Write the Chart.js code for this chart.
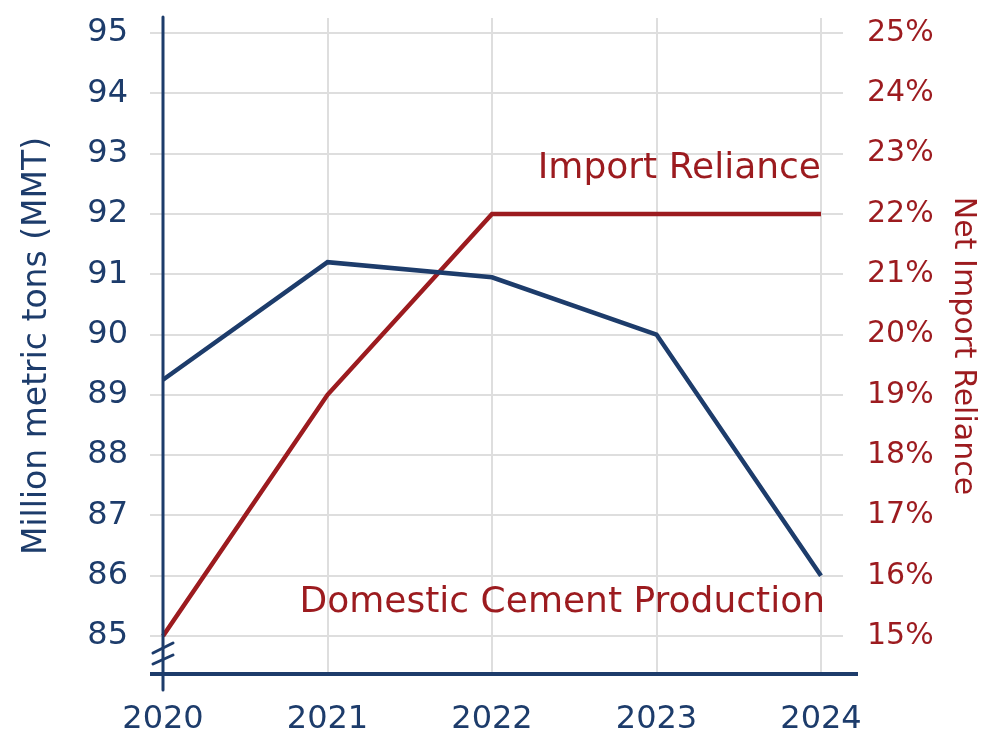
<!DOCTYPE html>
<html>
<head>
<meta charset="utf-8">
<script src="https://cdn.jsdelivr.net/npm/chart.js@4.4.0/dist/chart.umd.min.js"></script>
<style>
  html, body { margin: 0; padding: 0; background: #fff; }
  #wrap { width: 1000px; height: 754px; }
</style>
</head>
<body>
<div id="wrap"><canvas id="chart" width="1000" height="754"></canvas></div>
<script>
// data
const years = ['2020', '2021', '2022', '2023', '2024'];
const production = [89.25, 91.2, 90.95, 90.0, 86.0];     // MMT
const importReliance = [15, 19, 22, 22, 22];              // %
const leftTicks = [85, 86, 87, 88, 89, 90, 91, 92, 93, 94, 95];
const rightTicks = [15, 16, 17, 18, 19, 20, 21, 22, 23, 24, 25];

const BLUE = '#1d3c6b';
const RED = '#9c1b1f';
const GRID = '#dedede';
const FONT = "'DejaVu Sans', sans-serif";

// hand-drawn style axis lines, break mark and inline labels
const decorations = {
    id: 'decorations',
    afterDatasetsDraw(chart) {
        const { ctx, chartArea } = chart;
        const x = chart.scales.x;
        const y1 = chart.scales.y1;
        const y = chart.scales.y;
        const left = chartArea.left;
        const bottom = chartArea.bottom;

        ctx.save();
        ctx.strokeStyle = BLUE;
        ctx.lineCap = 'round';

        // left axis
        ctx.lineWidth = 3;
        ctx.beginPath();
        ctx.moveTo(left, chartArea.top - 1);
        ctx.lineTo(left, bottom + 16);
        ctx.stroke();

        // bottom axis
        ctx.lineWidth = 4;
        ctx.lineCap = 'butt';
        ctx.beginPath();
        ctx.moveTo(left - 13, bottom);
        ctx.lineTo(x.right + 37, bottom);
        ctx.stroke();

        // axis break marks
        ctx.lineWidth = 3;
        ctx.lineCap = 'round';
        ctx.beginPath();
        ctx.moveTo(left - 10, bottom - 21);
        ctx.lineTo(left + 10, bottom - 31);
        ctx.moveTo(left - 10, bottom - 10);
        ctx.lineTo(left + 10, bottom - 19);
        ctx.stroke();

        // series labels
        ctx.fillStyle = RED;
        ctx.font = `36px ${FONT}`;
        ctx.textAlign = 'right';
        ctx.textBaseline = 'middle';
        ctx.fillText('Import Reliance', x.getPixelForValue(4), y1.getPixelForValue(22.75));
        ctx.fillText('Domestic Cement Production', x.getPixelForValue(4) + 4, y.getPixelForValue(85.55));
        ctx.restore();
    }
};

new Chart(document.getElementById('chart'), {
    type: 'line',
    data: {
        labels: years,
        datasets: [
            {
                label: 'Domestic Cement Production',
                data: production,
                yAxisID: 'y',
                borderColor: BLUE,
                borderWidth: 4.5,
                pointRadius: 0,
                tension: 0
            },
            {
                label: 'Import Reliance',
                data: importReliance,
                yAxisID: 'y1',
                borderColor: RED,
                borderWidth: 4.5,
                pointRadius: 0,
                tension: 0
            }
        ]
    },
    options: {
        responsive: false,
        animation: false,
        devicePixelRatio: 1,
        layout: { padding: { left: 10, right: 10, top: 18, bottom: 0 } },
        plugins: {
            legend: { display: false },
            tooltip: { enabled: false }
        },
        scales: {
            x: {
                offset: false,
                grid: { color: GRID, lineWidth: 2, drawTicks: false },
                border: { display: false },
                ticks: {
                    color: BLUE,
                    padding: 26,
                    maxRotation: 0,
                    font: { family: FONT, size: 32 }
                },
                afterFit(scale) { scale.height = 80; }
            },
            y: {
                position: 'left',
                min: 84.37,
                max: 95.25,
                afterBuildTicks(scale) { scale.ticks = leftTicks.map(v => ({ value: v })); },
                grid: { color: GRID, lineWidth: 2, tickLength: 13 },
                border: { display: false },
                ticks: {
                    color: BLUE,
                    padding: 22,
                    font: { family: FONT, size: 32 }
                },
                title: {
                    display: true,
                    text: 'Million metric tons (MMT)',
                    color: BLUE,
                    padding: { top: 8, bottom: 0 },
                    font: { family: FONT, size: 33 }
                },
                afterFit(scale) {
                    scale.width = 153;
                    scale.paddingTop = 0;
                    scale.paddingBottom = 0;
                }
            },
            y1: {
                position: 'right',
                min: 14.37,
                max: 25.25,
                afterBuildTicks(scale) { scale.ticks = rightTicks.map(v => ({ value: v })); },
                grid: { color: GRID, lineWidth: 2, tickLength: 22, drawOnChartArea: false },
                border: { display: false },
                ticks: {
                    color: RED,
                    padding: 24,
                    font: { family: FONT, size: 30 },
                    callback: v => v + '%'
                },
                title: {
                    display: true,
                    text: 'Net Import Reliance',
                    color: RED,
                    padding: { top: 9, bottom: 0 },
                    font: { family: FONT, size: 30 }
                },
                afterFit(scale) {
                    scale.width = 169;
                    scale.paddingTop = 0;
                    scale.paddingBottom = 0;
                }
            }
        }
    },
    plugins: [decorations]
});
</script>
</body>
</html>
